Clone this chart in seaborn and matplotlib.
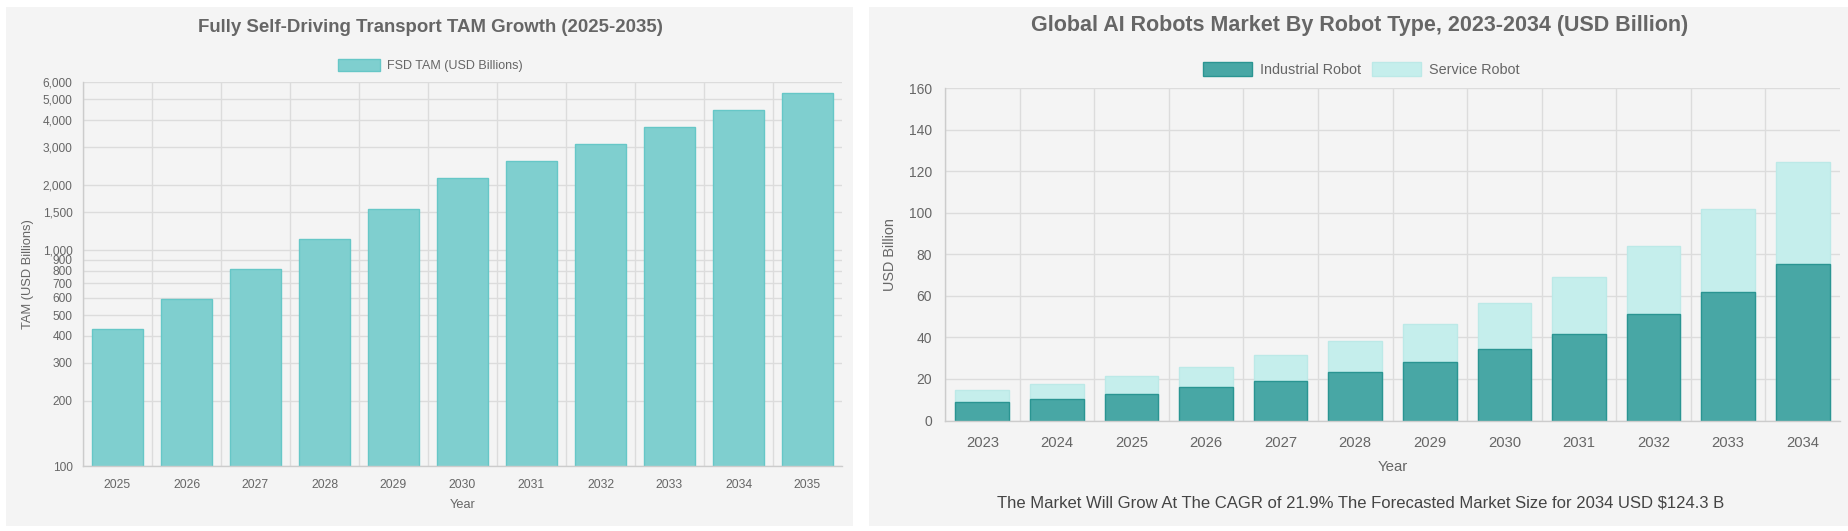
import matplotlib
matplotlib.use("Agg")
import matplotlib.pyplot as plt
import matplotlib.ticker as mticker
from matplotlib.patches import Rectangle
import seaborn as sns

# Data
fsd_years = ["2025", "2026", "2027", "2028", "2029", "2030",
             "2031", "2032", "2033", "2034", "2035"]
fsd_tam = [432, 595, 820, 1130, 1555, 2155, 2585, 3110, 3715, 4465, 5335]
fsd_ticks = [100, 200, 300, 400, 500, 600, 700, 800, 900, 1000,
             1500, 2000, 3000, 4000, 5000, 6000]

robot_years = ["2023", "2024", "2025", "2026", "2027", "2028",
               "2029", "2030", "2031", "2032", "2033", "2034"]
industrial = [9.0, 10.4, 12.9, 15.9, 19.1, 23.4, 28.1, 34.3, 41.8, 51.1, 62.0, 75.3]
service = [5.8, 7.2, 8.5, 10.1, 12.4, 15.0, 18.4, 22.4, 27.3, 32.8, 40.1, 49.0]
robot_ticks = [0, 20, 40, 60, 80, 100, 120, 140, 160]

sns.set_style("white")
plt.rcParams["font.family"] = ["Liberation Sans", "DejaVu Sans"]

W, H = 1848, 531
BG = "#f4f4f4"
GRID = "#dcdcdc"
TXT = "#666666"


def fx(px):
    return px / W


def fy(py):
    return 1 - py / H


fig = plt.figure(figsize=(W / 100, H / 100), dpi=100, facecolor="white")

# card backgrounds (behind the axes)
fig.patches.append(Rectangle((fx(6), fy(526)), fx(853) - fx(6), (526 - 7) / H,
                             transform=fig.transFigure, facecolor=BG, edgecolor="none", zorder=-5))
fig.patches.append(Rectangle((fx(869), fy(526)), 1 - fx(869), (526 - 7) / H,
                             transform=fig.transFigure, facecolor=BG, edgecolor="none", zorder=-5))


def style_axes(ax, n, tick_size, xpad):
    ax.set_facecolor("none")
    ax.set_xlim(-0.5, n - 0.5)
    ax.xaxis.set_minor_locator(mticker.FixedLocator([i - 0.5 for i in range(n)]))
    ax.grid(axis="y", which="major", color=GRID, linewidth=1)
    ax.grid(axis="x", which="minor", color=GRID, linewidth=1)
    ax.set_axisbelow(True)
    for s in ["top", "right"]:
        ax.spines[s].set_visible(False)
    for s in ["left", "bottom"]:
        ax.spines[s].set_color("#cccccc")
        ax.spines[s].set_linewidth(1)
    ax.tick_params(axis="x", which="major", length=0, pad=xpad,
                   labelsize=tick_size, labelcolor=TXT)
    ax.tick_params(axis="x", which="minor", length=6.5, color=GRID, width=1)


# ---- Left chart: FSD TAM (log scale)
ax1 = fig.add_axes([fx(83), fy(466), fx(842) - fx(83), (466 - 82) / H])
sns.barplot(x=fsd_years, y=fsd_tam, ax=ax1, color="#7fcfcf", width=0.73,
            edgecolor="#66c7c7", linewidth=1, saturation=1,
            label="FSD TAM (USD Billions)")
ax1.set_yscale("log")
ax1.set_ylim(100, 6000)
ax1.yaxis.set_major_locator(mticker.FixedLocator(fsd_ticks))
ax1.yaxis.set_major_formatter(mticker.FuncFormatter(lambda v, p: f"{int(v):,}"))
ax1.yaxis.set_minor_locator(mticker.NullLocator())
style_axes(ax1, len(fsd_years), 8.7, 9)
ax1.tick_params(axis="y", length=5, color=GRID, pad=2.5, labelsize=8.6, labelcolor=TXT)
ax1.set_xlabel("Year", fontsize=9.2, color=TXT, va="center")
ax1.xaxis.set_label_coords(0.5, -(505 - 466) / (466 - 82))
ax1.set_ylabel("TAM (USD Billions)", fontsize=9.3, color=TXT, va="center")
ax1.yaxis.set_label_coords(-(83 - 28) / (842 - 83), 0.5)
if ax1.get_legend():
    ax1.get_legend().remove()

fig.text(fx(430), fy(27), "Fully Self-Driving Transport TAM Growth (2025-2035)",
         ha="center", va="center", fontsize=13.4, fontweight="bold", color=TXT)
h1, l1 = ax1.get_legend_handles_labels()
fig.legend(h1, l1, loc="center", bbox_to_anchor=(fx(430), fy(65.5)), frameon=False,
           fontsize=9, labelcolor=TXT, handlelength=3.36, handleheight=1.04,
           handletextpad=0.56, borderaxespad=0)

# ---- Right chart: AI robots, stacked (service drawn as total behind industrial)
robot_total = [a + b for a, b in zip(industrial, service)]
ax2 = fig.add_axes([fx(945), fy(420.5), (1840 - 945) / W, (420.5 - 88.3) / H])
sns.barplot(x=robot_years, y=robot_total, ax=ax2, color="#c5eeec", width=0.72,
            edgecolor="#bce9e7", linewidth=1, saturation=1, label="Service Robot")
sns.barplot(x=robot_years, y=industrial, ax=ax2, color="#48a7a5", width=0.72,
            edgecolor="#2a9592", linewidth=1, saturation=1, label="Industrial Robot")
ax2.set_ylim(0, 160)
ax2.yaxis.set_major_locator(mticker.FixedLocator(robot_ticks))
style_axes(ax2, len(robot_years), 10.6, 11)
ax2.tick_params(axis="y", length=7, color=GRID, pad=2.5, labelsize=10, labelcolor=TXT)
ax2.set_xlabel("Year", fontsize=10.8, color=TXT, va="center")
ax2.xaxis.set_label_coords(0.5, -(467 - 420.5) / (420.5 - 88.3))
ax2.set_ylabel("USD Billion", fontsize=10.4, color=TXT, va="center")
ax2.yaxis.set_label_coords(-(945 - 890) / (1840 - 945), 0.5)
if ax2.get_legend():
    ax2.get_legend().remove()

fig.text(fx(1360), fy(25), "Global AI Robots Market By Robot Type, 2023-2034 (USD Billion)",
         ha="center", va="center", fontsize=15.5, fontweight="bold", color=TXT)
h2, l2 = ax2.get_legend_handles_labels()
order = [l2.index("Industrial Robot"), l2.index("Service Robot")]
fig.legend([h2[i] for i in order], [l2[i] for i in order], loc="center",
           bbox_to_anchor=(fx(1361), fy(69.5)), frameon=False, ncol=2,
           fontsize=10.4, labelcolor=TXT, handlelength=3.4, handleheight=1.04,
           handletextpad=0.55, columnspacing=0.76, borderaxespad=0)

fig.text(fx(1361), fy(503),
         "The Market Will Grow At The CAGR of 21.9% The Forecasted Market Size for 2034 USD $124.3 B",
         ha="center", va="center", fontsize=12, color="#444444")

fig.savefig("out.png", dpi=100, facecolor="white")
plt.close(fig)
